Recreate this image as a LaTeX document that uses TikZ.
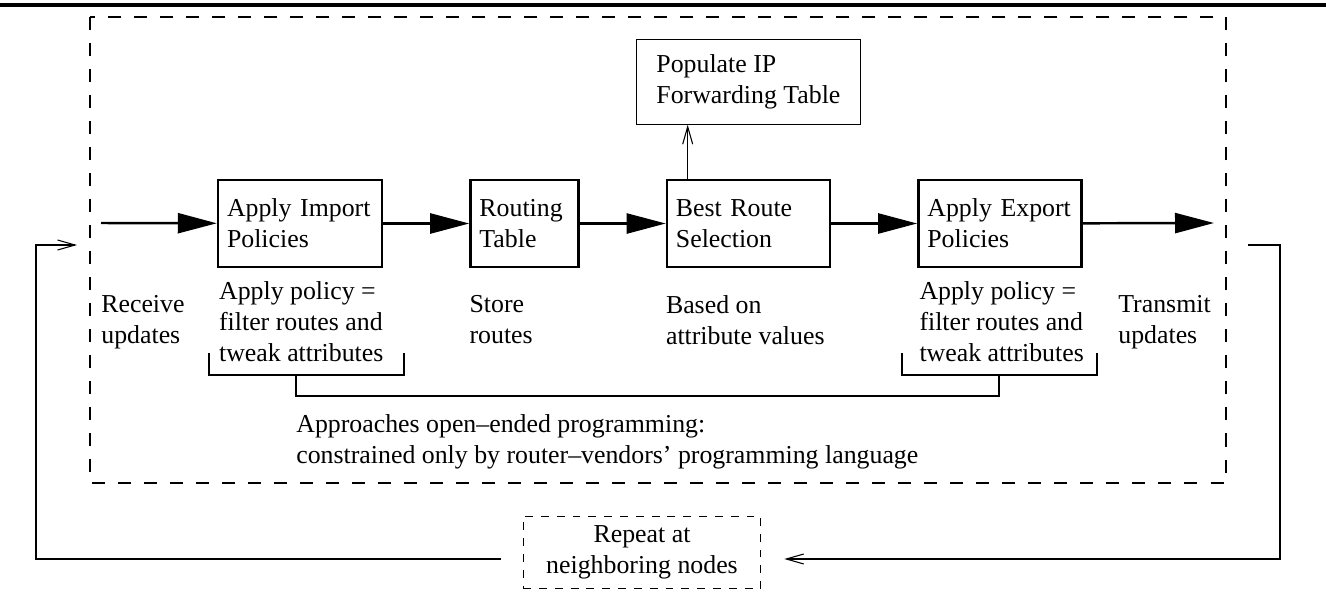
\documentclass[tikz,border=0pt]{standalone}
\usepackage{fontspec}
\setmainfont{Liberation Serif}
\usepackage{tikz}
\usetikzlibrary{arrows.meta, positioning}
\hyphenpenalty=10000
\exhyphenpenalty=10000

\begin{document}
\begin{tikzpicture}[
      stage/.style={rectangle, draw, line width=1.4pt, inner xsep=0.18cm,
                    minimum height=1.74cm, align=left},
      pbox/.style={rectangle, draw, line width=0.6pt, align=left,
                   inner xsep=0.4cm, inner ysep=0.3cm},
      repbox/.style={rectangle, draw, line width=0.6pt, align=center,
                     dash pattern=on 4.5pt off 4.5pt,
                     inner xsep=0.46cm, inner ysep=0.19cm},
      note/.style={align=left, inner sep=0pt},
      flow/.style={-{Triangle[length=0.78cm, width=0.4cm]}, line width=1.4pt},
      thinarrow/.style={-{Straight Barb[length=0.35cm, width=0.2cm]}, line width=0.6pt},
      thinline/.style={line width=0.6pt},
      frameline/.style={line width=0.6pt, dash pattern=on 7.4pt off 7.4pt},
      every node/.style={font=\fontsize{14.7}{17.6}\selectfont}
    ]
        \useasboundingbox (0,0) rectangle (26.52,-11.92);
        \draw[line width=2pt] (0,-0.1) -- (26.52,-0.1);
        \draw[frameline] (1.8,-0.34) rectangle (24.52,-9.66);

        % stages
        \node[stage, text width=2.92cm] (imp) at (6.0,-4.47) {Apply Import\\Policies};
        \node[stage, text width=1.8cm, right=1.72cm of imp] (rt) {Routing\\Table};
        \node[stage, text width=2.9cm, right=1.72cm of rt] (best) {Best Route\\Selection};
        \node[stage, text width=2.9cm, right=1.72cm of best] (exp) {Apply Export\\Policies};
        \node[pbox, above=1.08cm of best] (pop) {Populate IP\\Forwarding Table};

        \coordinate (src) at (2.02,-4.46);
        \coordinate (sink) at (24.28,-4.46);
        \draw[flow] (src) -- (imp);
        \draw[flow] (imp) -- (rt);
        \draw[flow] (rt) -- (best);
        \draw[flow] (best) -- (exp);
        \draw[flow] (exp) -- (sink);
        \coordinate (fwd) at ([xshift=0.44cm]best.north west);
        \draw[thinarrow] (fwd) -- (fwd |- pop.south);

        % notes
        \node[note, anchor=north west] (rcv) at (2.02,-5.9) {Receive\\updates};
        \node[note, anchor=north west] (impnote) at ([xshift=0.04cm, yshift=-0.26cm]imp.south west) {Apply policy =\\filter routes and\\tweak attributes};
        \node[note, anchor=north west] (store) at (rt.south west |- rcv.north) {Store\\routes};
        \node[note, anchor=north west] (based) at (best.south west |- rcv.north) {Based on\\attribute values};
        \node[note, anchor=north west] (expnote) at ([xshift=0.04cm, yshift=-0.26cm]exp.south west) {Apply policy =\\filter routes and\\tweak attributes};
        \node[note, anchor=north west] (xmit) at (22.36,-5.9) {Transmit\\updates};

        % brackets
        \draw[thinline] (4.18,-7.06) |- (8.08,-7.5) -- (8.08,-7.06);
        \draw[thinline] (18.04,-7.06) |- (21.94,-7.5) -- (21.94,-7.06);
        \coordinate (brkA) at (5.92,-7.5);
        \coordinate (brkB) at (19.98,-7.5);
        \draw[thinline] (brkA) -- ++(0,-0.42) -| (brkB);
        \node[note, anchor=north west] (appr) at (5.92,-8.28) {Approaches open--ended programming:\\constrained only by router--vendors' programming language};

        % loop to neighbours
        \node[repbox] (rep) at (12.84,-11.05) {Repeat at\\neighboring nodes};
        \coordinate (fbin) at (1.54,-4.9);
        \coordinate (fbout) at (24.96,-4.9);
        \coordinate (lcorner) at (0.72,-4.9);
        \coordinate (rcorner) at (25.6,-4.9);
        \draw[thinarrow] ([xshift=-0.44cm, yshift=-0.13cm]rep.west) -| (lcorner) -- (fbin);
        \draw[thinarrow] (fbout) -- (rcorner) |- ([xshift=0.46cm, yshift=-0.13cm]rep.east);
    \end{tikzpicture}
\end{document}
